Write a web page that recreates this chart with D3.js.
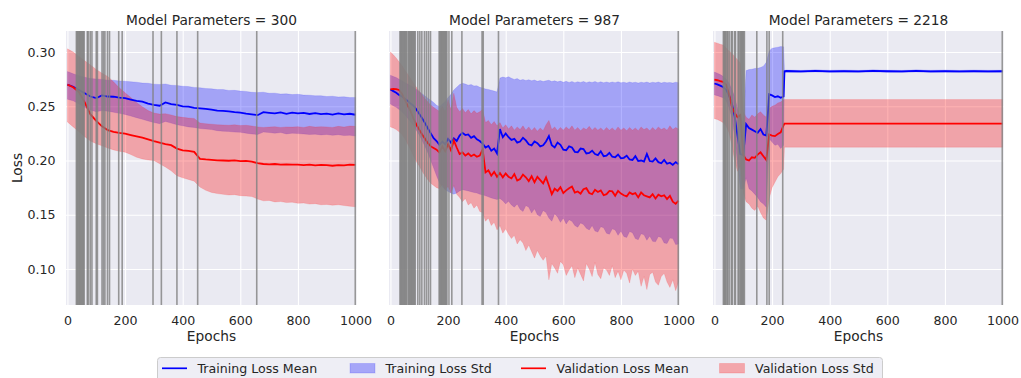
<!DOCTYPE html>
<html>
<head>
<meta charset="utf-8">
<script src="https://cdn.jsdelivr.net/npm/d3@7"></script>
<style>
  body { margin: 0; background: #fff; }
  text { font-family: "DejaVu Sans", sans-serif; fill: #262626; }
</style>
</head>
<body>
<script>
// ---- donnees ----
const paramCounts = [300, 987, 2218]
const xTicks = [0, 200, 400, 600, 800, 1000]
const yTicks = [0.10, 0.15, 0.20, 0.25, 0.30]
const legendLabels = ["Training Loss Mean", "Training Loss Std", "Validation Loss Mean", "Validation Loss Std"]

// panel 1 (300 params), every 20 epochs
const epochs1 = [0,20,40,60,80,100,120,140,160,180,200,220,240,260,280,300,320,340,360,380,400,420,440,460,480,500,520,540,560,580,600,620,640,660,680,700,720,740,760,780,800,820,840,860,880,900,920,940,960,980,1000]
const trainMean1 = [.2700,.2680,.2650,.2620,.2590,.2575,.2600,.2590,.2588,.2580,.2575,.2562,.2550,.2542,.2525,.2512,.2505,.2535,.2520,.2512,.2500,.2496,.2485,.2480,.2476,.2470,.2460,.2457,.2453,.2446,.2442,.2432,.2426,.2418,.2446,.2440,.2434,.2444,.2430,.2441,.2434,.2439,.2429,.2436,.2427,.2433,.2424,.2435,.2425,.2431,.2422]
const trainHi1 = [.2820,.2800,.2782,.2768,.2756,.2752,.2748,.2741,.2740,.2734,.2731,.2726,.2722,.2714,.2712,.2704,.2701,.2706,.2694,.2692,.2685,.2682,.2674,.2671,.2664,.2661,.2654,.2655,.2646,.2647,.2640,.2637,.2629,.2626,.2630,.2620,.2621,.2613,.2615,.2608,.2611,.2603,.2602,.2597,.2598,.2590,.2593,.2586,.2588,.2580,.2582]
const trainLo1 = [.2565,.2550,.2520,.2490,.2465,.2450,.2460,.2455,.2445,.2435,.2425,.2410,.2395,.2380,.2365,.2350,.2340,.2360,.2345,.2330,.2320,.2310,.2305,.2295,.2290,.2285,.2275,.2270,.2268,.2262,.2260,.2252,.2245,.2240,.2262,.2258,.2252,.2258,.2245,.2252,.2248,.2245,.2240,.2243,.2236,.2240,.2232,.2238,.2230,.2233,.2225]
const valMean1 = [.2700,.2675,.2630,.2535,.2425,.2365,.2315,.2280,.2265,.2255,.2247,.2235,.2222,.2210,.2195,.2179,.2165,.2152,.2142,.2110,.2093,.2088,.2080,.2016,.2010,.2006,.2002,.2000,.1998,.2001,.1994,.1996,.1990,.1975,.1968,.1965,.1968,.1962,.1965,.1963,.1963,.1958,.1962,.1956,.1959,.1957,.1952,.1958,.1955,.1962,.1960]
const valHi1 = [.3030,.3000,.2960,.2920,.2880,.2840,.2805,.2775,.2725,.2670,.2625,.2580,.2535,.2495,.2460,.2438,.2428,.2432,.2420,.2405,.2398,.2392,.2388,.2345,.2340,.2335,.2330,.2328,.2325,.2330,.2322,.2325,.2318,.2310,.2305,.2308,.2312,.2305,.2310,.2308,.2312,.2305,.2315,.2308,.2312,.2310,.2305,.2315,.2308,.2318,.2315]
const valLo1 = [.2355,.2310,.2265,.2220,.2180,.2155,.2135,.2115,.2098,.2085,.2077,.2055,.2030,.2015,.2005,.2000,.1970,.1940,.1905,.1860,.1840,.1825,.1810,.1755,.1725,.1706,.1695,.1688,.1682,.1685,.1676,.1672,.1668,.1645,.1628,.1632,.1618,.1622,.1612,.1616,.1605,.1608,.1598,.1602,.1592,.1595,.1588,.1592,.1585,.1578,.1574]
const cuts1 = [31,34,37,40,43,46,49,52,55,58,69,72,79,85,100,104,120,125,130,139,146,178,190,297,326,380,452,657,999]

// panel 2 (987 params), every 10 epochs
const epochs2 = [0,10,20,30,40,50,60,70,80,90,100,110,120,130,140,150,160,170,180,190,200,210,220,230,240,250,260,270,280,290,300,310,320,330,340,350,360,370,380,390,400,410,420,430,440,450,460,470,480,490,500,510,520,530,540,550,560,570,580,590,600,610,620,630,640,650,660,670,680,690,700,710,720,730,740,750,760,770,780,790,800,810,820,830,840,850,860,870,880,890,900,910,920,930,940,950,960,970,980,990,1000]
const trainMean2 = [.2655,.2640,.2625,.2605,.2590,.2570,.2550,.2525,.2505,.2470,.2430,.2390,.2345,.2295,.2250,.2205,.2180,.2145,.2175,.2150,.2200,.2165,.2205,.2180,.2230,.2255,.2235,.2240,.2210,.2225,.2195,.2180,.2155,.2120,.2135,.2090,.2110,.2065,.2290,.2215,
  .2250,.2215,.2190,.2200,.2165,.2175,.2210,.2185,.2150,.2140,.2175,.2160,.2130,.2140,.2175,.2225,.2140,.2120,.2165,.2145,.2100,.2095,.2130,.2120,.2080,.2075,.2110,.2105,.2065,.2070,
  .2090,.2060,.2050,.2085,.2040,.2045,.2070,.2035,.2030,.2055,.2020,.2025,.2045,.2010,.2005,.2040,.1995,.2000,.1990,.2060,.1995,.1990,.2020,.1985,.1975,.2005,.1970,.1980,.1960,.1985,.1965]
const trainHi2 = [.2787,.2775,.2765,.2750,.2735,.2720,.2705,.2690,.2675,.2655,.2635,.2615,.2595,.2575,.2555,.2535,.2510,.2495,.2520,.2545,.2580,.2610,.2650,.2675,.2700,.2712,.2705,.2695,.2700,.2688,.2690,.2675,.2668,.2660,.2655,.2648,.2640,.2632,.2760,.2770,.2762,.2772,.2758,.2748,.2755,.2740,.2748,.2738,.2745,.2735,.2742,.2730,.2738,.2728,.2735,.2740,.2728,.2735,.2725,.2732,.2722,.2730,.2720,.2728,.2718,.2726,.2720,.2728,.2718,.2725,.2720,.2728,.2718,.2725,.2717,.2724,.2716,.2724,.2718,.2726,.2716,.2722,.2715,.2724,.2716,.2722,.2714,.2722,.2716,.2724,.2714,.2722,.2716,.2724,.2714,.2722,.2716,.2720,.2714,.2722,.2718]
const trainLo2 = [.2520,.2505,.2490,.2470,.2450,.2420,.2390,.2355,.2320,.2280,.2235,.2185,.2130,.2070,.2000,.1930,.1860,.1795,.1760,.1730,.1715,.1700,.1690,.1700,.1720,.1730,.1725,.1720,.1712,.1705,.1700,.1690,.1685,.1675,.1665,.1655,.1648,.1640,.1650,.1630,
  .1600,.1625,.1590,.1570,.1600,.1550,.1530,.1585,.1570,.1515,.1555,.1500,.1485,.1540,.1520,.1470,.1440,.1510,.1480,.1430,.1470,.1415,.1455,.1440,.1400,.1385,.1425,.1410,.1375,.1360,
  .1400,.1350,.1340,.1390,.1380,.1330,.1320,.1370,.1360,.1310,.1350,.1300,.1290,.1345,.1335,.1280,.1270,.1325,.1315,.1265,.1305,.1255,.1250,.1300,.1290,.1240,.1235,.1285,.1280,.1225,.1230]
const valMean2 = [.2655,.2660,.2658,.2650,.2615,.2560,.2505,.2455,.2385,.2330,.2285,.2240,.2200,.2160,.2130,.2115,.2100,.2075,.2130,.2085,.2150,.2095,.2185,.2120,.2060,.2075,.2045,.2065,.2040,.2055,.2035,.2045,.2100,.1890,.1910,.1860,.1895,.1850,.1885,.1845,
  .1880,.1850,.1835,.1875,.1815,.1830,.1870,.1845,.1810,.1855,.1800,.1850,.1820,.1790,.1845,.1770,.1690,.1740,.1720,.1755,.1700,.1725,.1745,.1760,.1705,.1715,.1695,.1735,.1745,.1700,
  .1690,.1730,.1710,.1725,.1680,.1690,.1720,.1715,.1675,.1720,.1695,.1680,.1670,.1705,.1690,.1700,.1660,.1705,.1680,.1670,.1660,.1690,.1650,.1685,.1670,.1680,.1645,.1675,.1620,.1600,.1630]
const valHi2 = [.3000,.2975,.2945,.2910,.2875,.2835,.2795,.2755,.2715,.2675,.2640,.2605,.2570,.2540,.2510,.2490,.2470,.2455,.2500,.2450,.2560,.2470,.2620,.2490,.2450,.2480,.2440,.2470,.2430,.2460,.2435,.2450,.2470,.2350,.2370,.2330,.2360,.2320,.2350,.2300,.2330,.2290,.2320,.2280,.2310,.2285,.2320,.2280,.2310,.2275,.2305,.2270,.2300,.2275,.2330,.2370,.2285,.2310,.2275,.2305,.2280,.2310,.2285,.2320,.2280,.2305,.2275,.2300,.2285,.2315,.2280,.2305,.2280,.2300,.2275,.2305,.2280,.2300,.2275,.2310,.2280,.2300,.2275,.2305,.2280,.2300,.2275,.2310,.2285,.2300,.2275,.2305,.2280,.2310,.2285,.2300,.2280,.2320,.2285,.2305,.2290]
const valLo2 = [.2310,.2300,.2285,.2265,.2240,.2200,.2150,.2100,.2040,.1990,.1950,.1900,.1860,.1820,.1790,.1770,.1750,.1740,.1780,.1730,.1760,.1700,.1770,.1690,.1660,.1620,.1650,.1590,.1610,.1560,.1590,.1530,.1520,.1440,.1470,.1400,.1430,.1360,.1400,.1330,
  .1370,.1320,.1280,.1310,.1230,.1270,.1240,.1170,.1220,.1160,.1100,.1170,.1120,.1080,.1120,.0900,.1050,.1010,.0960,.1070,.1040,.0940,.0990,.1030,.0920,.1010,.0950,.0890,.1050,.1000,
  .0930,.1060,.0950,.0910,.1010,.0990,.0940,.1030,.0920,.0980,.0900,.0990,.0960,.0870,.1000,.0940,.0980,.0840,.0930,.0810,.0950,.0970,.0880,.0850,.0930,.0960,.0880,.0830,.0900,.0800,.0880]
const cuts2 = [33,36,39,42,45,48,51,54,57,62,65,68,71,74,77,80,83,86,95,102,109,118,125,132,139,169,172,175,178,181,184,187,190,193,196,203,213,248,318,322,375,999]

// panel 3 (2218 params)
const epochs3 = [0,10,20,30,40,50,60,70,80,90,100,110,120,130,140,150,160,170,180,190,200,210,220,230,240,243,250,300,350,400,450,500,550,600,650,700,750,800,850,900,950,1000]
const trainMean3 = [.2710,.2702,.2690,.2678,.2655,.2605,.2530,.2410,.2230,.2060,.2050,.2335,.2300,.2285,.2270,.2255,.2290,.2240,.2230,.2610,.2600,.2585,.2592,.2578,.2590,.2822,.2825,.2821,.2826,.2822,.2825,.2821,.2826,.2823,.2821,.2826,.2822,.2825,.2821,.2825,.2822,.2823]
const trainHi3 = [.2815,.2805,.2792,.2776,.2752,.2718,.2660,.2590,.2480,.2380,.2360,.2830,.2838,.2842,.2848,.2850,.2858,.2870,.2905,.3010,.3035,.3040,.3045,.3050,.3048,.2832,.2835,.2831,.2836,.2832,.2835,.2831,.2836,.2833,.2831,.2836,.2832,.2835,.2831,.2835,.2832,.2833]
const trainLo3 = [.2605,.2598,.2588,.2578,.2555,.2490,.2400,.2230,.1980,.1740,.1740,.1840,.1740,.1720,.1690,.1660,.1620,.1600,.1570,.2200,.2170,.2140,.2150,.2110,.2140,.2812,.2815,.2811,.2816,.2812,.2815,.2811,.2816,.2813,.2811,.2816,.2812,.2815,.2811,.2815,.2812,.2813]
const valMean3 = [.2745,.2740,.2732,.2725,.2700,.2620,.2500,.2440,.2400,.2420,.2050,.2010,.2000,.2030,.2025,.2055,.2075,.2040,.2005,.2240,.2230,.2225,.2245,.2260,.2325,.2340,.2340,.2340,.2340,.2340,.2340,.2340,.2340,.2340,.2340,.2340,.2340,.2340,.2340,.2340,.2340,.2340]
const valHi3 = [.3090,.3082,.3072,.3065,.3040,.3010,.2990,.2960,.2930,.2900,.2450,.2400,.2380,.2420,.2400,.2430,.2450,.2420,.2400,.2480,.2500,.2510,.2530,.2540,.2560,.2562,.2562,.2562,.2562,.2562,.2562,.2562,.2562,.2562,.2562,.2562,.2562,.2562,.2562,.2562,.2562,.2562]
const valLo3 = [.2385,.2378,.2365,.2350,.2320,.2260,.2150,.2000,.1900,.1950,.1700,.1620,.1600,.1560,.1540,.1580,.1520,.1470,.1450,.1650,.1750,.1800,.1850,.1880,.1920,.2123,.2123,.2123,.2123,.2123,.2123,.2123,.2123,.2123,.2123,.2123,.2123,.2123,.2123,.2123,.2123,.2123]
const cuts3 = [31,34,37,40,44,47,52,59,62,70,73,82,85,89,92,95,98,101,104,147,182,190,237,999]

// regroupe par panneau
function rows(ep, tm, tl, th, vm, vl, vh) {
  return ep.map((e, i) => ({e: e, tm: tm[i], tl: tl[i], th: th[i], vm: vm[i], vl: vl[i], vh: vh[i]}))
}
const panels = [
  {n: paramCounts[0], data: rows(epochs1, trainMean1, trainLo1, trainHi1, valMean1, valLo1, valHi1), cuts: cuts1},
  {n: paramCounts[1], data: rows(epochs2, trainMean2, trainLo2, trainHi2, valMean2, valLo2, valHi2), cuts: cuts2},
  {n: paramCounts[2], data: rows(epochs3, trainMean3, trainLo3, trainHi3, valMean3, valLo3, valHi3), cuts: cuts3}
]

// ---- layout ----
const W = 1021, H = 378
const lefts = [66, 389, 713], pw = 291
const plotTop = 31, plotBottom = 305
const bg = "#EAEAF2"

const svg = d3.select("body").append("svg")
  .attr("width", W)
  .attr("height", H)

const y = d3.scaleLinear().domain([0.0668, 0.3194]).range([plotBottom, plotTop])

panels.forEach((p, i) => {
  const x = d3.scaleLinear().domain([-5, 1005]).range([lefts[i], lefts[i] + pw])
  const g = svg.append("g")

  g.append("rect")
    .attr("x", lefts[i]).attr("y", plotTop)
    .attr("width", pw).attr("height", plotBottom - plotTop)
    .attr("fill", bg)

  g.append("clipPath").attr("id", "clip" + i)
    .append("rect")
    .attr("x", lefts[i]).attr("y", plotTop)
    .attr("width", pw).attr("height", plotBottom - plotTop)

  // grid
  g.append("g")
    .attr("transform", "translate(0," + plotBottom + ")")
    .call(d3.axisBottom(x).tickValues(xTicks).tickSize(-(plotBottom - plotTop)).tickFormat(""))
    .call(a => a.select(".domain").remove())
    .call(a => a.selectAll("line").attr("stroke", "#fff").attr("stroke-width", 1.1))
  g.append("g")
    .attr("transform", "translate(" + lefts[i] + ",0)")
    .call(d3.axisLeft(y).tickValues(yTicks).tickSize(-pw).tickFormat(""))
    .call(a => a.select(".domain").remove())
    .call(a => a.selectAll("line").attr("stroke", "#fff").attr("stroke-width", 1.1))

  // tick labels
  g.append("g")
    .attr("transform", "translate(0," + plotBottom + ")")
    .call(d3.axisBottom(x).tickValues(xTicks).tickSize(0).tickPadding(10.7).tickFormat(d3.format("d")))
    .call(a => a.select(".domain").remove())
    .call(a => a.selectAll("text").attr("font-size", 12.6).attr("font-family", "DejaVu Sans").attr("fill", "#262626"))
  if (i == 0) {
    g.append("g")
      .attr("transform", "translate(" + lefts[i] + ",0)")
      .call(d3.axisLeft(y).tickValues(yTicks).tickSize(0).tickPadding(10.5).tickFormat(d3.format(".2f")))
      .call(a => a.select(".domain").remove())
      .call(a => a.selectAll("text").attr("font-size", 12.6).attr("font-family", "DejaVu Sans").attr("fill", "#262626"))
  }

  const plot = g.append("g").attr("clip-path", "url(#clip" + i + ")")

  const trainArea = d3.area().x(d => x(d.e)).y0(d => y(d.tl)).y1(d => y(d.th))
  const valArea = d3.area().x(d => x(d.e)).y0(d => y(d.vl)).y1(d => y(d.vh))
  const trainLine = d3.line().x(d => x(d.e)).y(d => y(d.tm))
  const valLine = d3.line().x(d => x(d.e)).y(d => y(d.vm))

  plot.append("path").attr("d", trainArea(p.data))
    .attr("fill", "blue").attr("fill-opacity", 0.3)
    .attr("stroke", "blue").attr("stroke-opacity", 0.15).attr("stroke-width", 0.8)
  plot.append("path").attr("d", valArea(p.data))
    .attr("fill", "red").attr("fill-opacity", 0.3)
    .attr("stroke", "red").attr("stroke-opacity", 0.15).attr("stroke-width", 0.8)
  plot.append("path").attr("d", trainLine(p.data))
    .attr("fill", "none").attr("stroke", "blue").attr("stroke-width", 1.8)
  plot.append("path").attr("d", valLine(p.data))
    .attr("fill", "none").attr("stroke", "red").attr("stroke-width", 1.8)

  // lignes verticales grises
  plot.selectAll(".cut")
    .data(p.cuts)
    .join("line")
    .attr("class", "cut")
    .attr("x1", d => x(d)).attr("x2", d => x(d))
    .attr("y1", plotTop).attr("y2", plotBottom)
    .attr("stroke", "gray").attr("stroke-opacity", 0.8).attr("stroke-width", 1.6)

  g.append("text")
    .attr("x", lefts[i] + pw / 2).attr("y", 25)
    .attr("text-anchor", "middle").attr("font-size", 13.75)
    .text("Model Parameters = " + p.n)

  g.append("text")
    .attr("x", lefts[i] + pw / 2).attr("y", 340.5)
    .attr("text-anchor", "middle").attr("font-size", 13.75)
    .text("Epochs")
})

svg.append("text")
  .attr("transform", "translate(21.7," + (plotTop + plotBottom) / 2 + ") rotate(-90)")
  .attr("text-anchor", "middle").attr("font-size", 13.75)
  .text("Loss")

// legende
const leg = svg.append("g")
leg.append("rect")
  .attr("x", 157.5).attr("y", 357.5).attr("width", 725).attr("height", 32).attr("rx", 3)
  .attr("fill", bg).attr("fill-opacity", 0.8)
  .attr("stroke", "#cccccc").attr("stroke-width", 1)

const legX = [162, 350, 521, 719.5]
const legKind = ["line", "patch", "line", "patch"]
const legColor = ["blue", "blue", "red", "red"]
legendLabels.forEach((lab, k) => {
  if (legKind[k] == "line") {
    leg.append("line")
      .attr("x1", legX[k]).attr("x2", legX[k] + 25)
      .attr("y1", 368.3).attr("y2", 368.3)
      .attr("stroke", legColor[k]).attr("stroke-width", 1.7)
  } else {
    leg.append("rect")
      .attr("x", legX[k]).attr("y", 363.5).attr("width", 25).attr("height", 9.5)
      .attr("fill", legColor[k]).attr("fill-opacity", 0.3)
      .attr("stroke", legColor[k]).attr("stroke-opacity", 0.15)
  }
  leg.append("text")
    .attr("x", legX[k] + 35.5).attr("y", 372.5)
    .attr("font-size", 12.6)
    .text(lab)
})
</script>
</body>
</html>
